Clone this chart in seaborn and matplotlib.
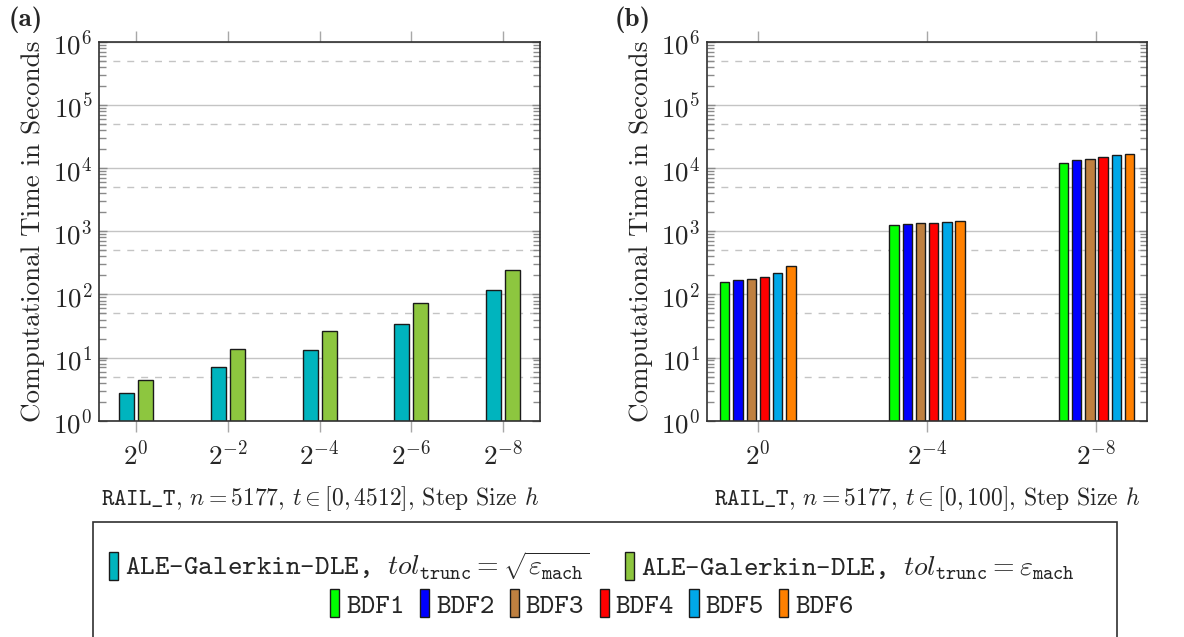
import numpy as np
import pandas as pd
import matplotlib
matplotlib.use("Agg")
import matplotlib.pyplot as plt
import seaborn as sns
from matplotlib.patches import Patch, Rectangle
from matplotlib.ticker import LogLocator, NullFormatter, FixedLocator

# ---------------- data ----------------
steps_a = [r"$2^{0}$", r"$2^{-2}$", r"$2^{-4}$", r"$2^{-6}$", r"$2^{-8}$"]
ale_sqrt = [2.72, 7.17, 13.0, 34.5, 116.6]
ale_eps = [4.37, 13.7, 26.7, 74.1, 244.0]
ale_names = [r"ALE-Galerkin-DLE, $tol_{\mathtt{trunc}} = \sqrt{\varepsilon_{\mathtt{mach}}}$",
             r"ALE-Galerkin-DLE, $tol_{\mathtt{trunc}} = \varepsilon_{\mathtt{mach}}$"]
ale_colors = ["#00B4BE", "#8DC63F"]

steps_b = [r"$2^{0}$", r"$2^{-4}$", r"$2^{-8}$"]
bdf_names = ["BDF1", "BDF2", "BDF3", "BDF4", "BDF5", "BDF6"]
bdf1 = [156, 1263, 12270]
bdf2 = [170, 1310, 13540]
bdf3 = [174, 1343, 13890]
bdf4 = [187, 1335, 14940]
bdf5 = [219, 1394, 16250]
bdf6 = [286, 1479, 16670]
bdf_colors = ["#00FF00", "#0000FF", "#BF8040", "#FF0000", "#00A8E8", "#FF8000"]

ytick_vals = [1e0, 1e1, 1e2, 1e3, 1e4, 1e5, 1e6]
ytick_labels = [r"$10^{0}$", r"$10^{1}$", r"$10^{2}$", r"$10^{3}$", r"$10^{4}$", r"$10^{5}$", r"$10^{6}$"]
ylabel = "Computational Time in Seconds"
xlabel_a = r"$\mathtt{RAIL\_T}$, $n = 5177$, $t \in [0, 4512]$, Step Size $h$"
xlabel_b = r"$\mathtt{RAIL\_T}$, $n = 5177$, $t \in [0, 100]$, Step Size $h$"

df_a = pd.DataFrame({
    "step": steps_a * 2,
    "time": ale_sqrt + ale_eps,
    "method": [ale_names[0]] * 5 + [ale_names[1]] * 5,
})
bdf_vals = [bdf1, bdf2, bdf3, bdf4, bdf5, bdf6]
df_b = pd.DataFrame({
    "step": steps_b * 6,
    "time": [v for s in bdf_vals for v in s],
    "method": [n for n in bdf_names for _ in steps_b],
})

# ---------------- style ----------------
sns.set_theme(style="white")
plt.rcParams["font.family"] = ["cmr10"]
plt.rcParams["mathtext.fontset"] = "cm"
plt.rcParams["axes.formatter.use_mathtext"] = True
plt.rcParams["axes.unicode_minus"] = False

FS = 19.5
fig = plt.figure(figsize=(11.84, 6.37), dpi=100)
ax_a = fig.add_axes([99.3 / 1184, 1 - 420.7 / 637, 440.7 / 1184, 378.7 / 637])
ax_b = fig.add_axes([707.0 / 1184, 1 - 420.7 / 637, 440.3 / 1184, 378.7 / 637])

sns.barplot(data=df_a, x="step", y="time", hue="method", order=steps_a,
            hue_order=ale_names, palette=ale_colors, width=0.413, gap=0.21, saturation=1,
            edgecolor="#1a1a1a", linewidth=1.0, errorbar=None, legend=False, ax=ax_a)
sns.barplot(data=df_b, x="step", y="time", hue="method", order=steps_b,
            hue_order=bdf_names, palette=bdf_colors, width=0.468, gap=0.29, saturation=1,
            edgecolor="#1a1a1a", linewidth=1.0, errorbar=None, legend=False, ax=ax_b)

for ax, xlim, xl in [(ax_a, (-0.4, 4.4), xlabel_a), (ax_b, (-0.3, 2.3), xlabel_b)]:
    ax.set_yscale("log")
    ax.set_ylim(ytick_vals[0], ytick_vals[-1])
    ax.set_xlim(*xlim)
    ax.set_axisbelow(True)
    ax.yaxis.set_major_locator(FixedLocator(ytick_vals))
    ax.set_yticklabels(ytick_labels)
    ax.yaxis.set_minor_locator(LogLocator(base=10, subs=np.arange(2, 10)))
    ax.yaxis.set_minor_formatter(NullFormatter())
    ax.grid(axis="y", which="major", color="#c4c4c4", linewidth=1.0, linestyle="-")
    ax.grid(axis="x", visible=False)
    for k in range(6):
        ax.axhline(5 * 10 ** k, color="#c4c4c4", linewidth=1.0, linestyle=(0, (5, 5)), zorder=0.5)
    ax.tick_params(axis="y", which="major", direction="in", left=True, right=True,
                   length=6, width=1, color="#8a8a8a", labelsize=FS, pad=5)
    ax.tick_params(axis="y", which="minor", direction="in", left=True, right=True,
                   length=5, width=1, color="#8a8a8a")
    ax.tick_params(axis="x", which="major", direction="out", bottom=True, top=True,
                   length=8, width=1, color="#a8a8a8", labelsize=FS, pad=6)
    for s in ax.spines.values():
        s.set_color("#303030")
        s.set_linewidth(1.2)
    ax.set_ylabel(ylabel, fontsize=FS, labelpad=6)
    ax.set_xlabel(xl, fontsize=17, labelpad=10)

fig.text(9 / 1184, 1 - 20 / 637, "(a)", family="cmb10", fontsize=FS, va="center", ha="left")
fig.text(615 / 1184, 1 - 20 / 637, "(b)", family="cmb10", fontsize=FS, va="center", ha="left")

# ---------------- legend ----------------
box = Rectangle((93 / 1184, -0.1), (1117 - 93) / 1184, (1 - 522 / 637) + 0.1,
                transform=fig.transFigure, facecolor="none", edgecolor="#303030",
                linewidth=1.2, clip_on=False)
fig.patches.append(box)

h1 = [Patch(facecolor=c, edgecolor="#1a1a1a", linewidth=1.0) for c in ale_colors]
h2 = [Patch(facecolor=c, edgecolor="#1a1a1a", linewidth=1.0) for c in bdf_colors]
leg_kw = dict(frameon=False, handlelength=0.33, handleheight=1.15, handletextpad=0.25,
              borderpad=0.0, prop={"family": "cmtt10", "size": 20}, loc="center")
fig.legend(h1, ale_names, ncol=2, columnspacing=1.3,
           bbox_to_anchor=(0.5, 1 - 566 / 637), **leg_kw)
fig.legend(h2, bdf_names, ncol=6, columnspacing=0.55,
           bbox_to_anchor=(0.5, 1 - 604 / 637), **leg_kw)

fig.savefig("out.png", dpi=100)
